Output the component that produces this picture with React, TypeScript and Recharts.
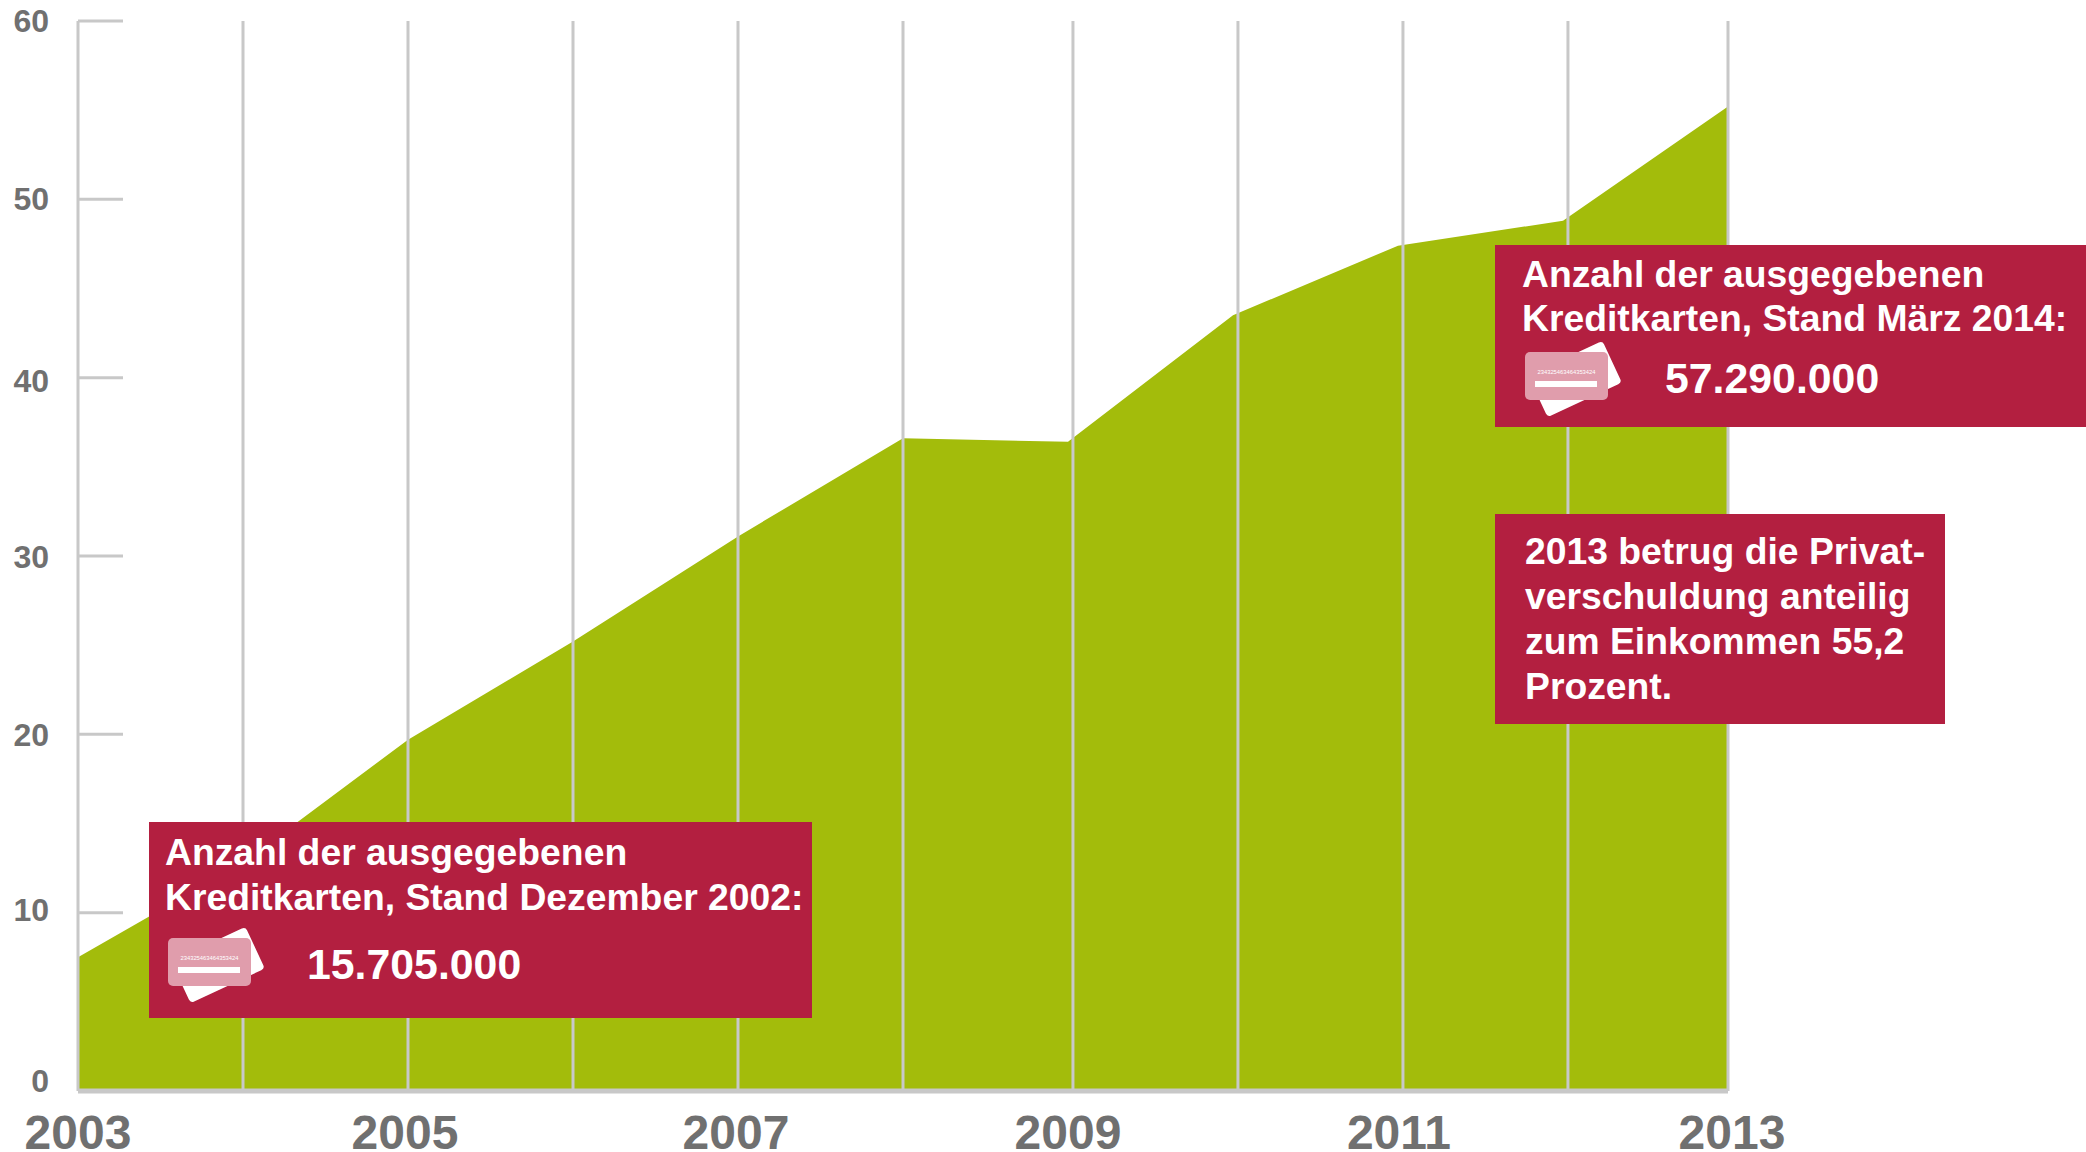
import { AreaChart, Area, XAxis, YAxis, ReferenceLine } from 'recharts';

const years = [2003, 2004, 2005, 2006, 2007, 2008, 2009, 2010, 2011, 2012, 2013];
const debtShare = [7.5, 12.8, 19.7, 25.2, 31.1, 36.6, 36.4, 43.5, 47.4, 48.8, 55.2];
// the vertical rules in the source sit slightly right of the data points after 2008
const gridYears = [2004, 2005, 2006, 2007, 2008, 2009.03, 2010.03, 2011.03, 2012.03, 2013];
const xTicks = [2003, 2005, 2007, 2009, 2011, 2013];
const yTicks = [0, 10, 20, 30, 40, 50, 60];

const data = years.map((year, i) => ({ year, value: debtShare[i] }));

const GREY = '#c8c8c8';
const LABEL = '#707070';
const FONT = '"Liberation Sans", Arial, sans-serif';

// hand nudges for labels that are off their ticks in the source
const yLabelShift: Record<number, number> = { 0: -10, 10: -3, 20: 1, 30: 1, 40: 3 };
const xLabelShift: Record<number, number> = { 2005: -3, 2007: -2, 2011: 1, 2013: 4 };

function YTick({ x, y, payload }: any) {
  return (
    <g>
      <line x1={x + 29} x2={x + 74} y1={y} y2={y} stroke={GREY} strokeWidth={3} />
      <text x={x} y={y + (yLabelShift[payload.value] ?? 0)} dy={11} textAnchor="end" fontFamily={FONT} fontWeight="bold" fontSize={32} fill={LABEL}>
        {payload.value}
      </text>
    </g>
  );
}

function XTick({ x, y, payload }: any) {
  return (
    <text x={x + (xLabelShift[payload.value] ?? 0)} y={y} dy={32} textAnchor="middle" fontFamily={FONT} fontWeight="bold" fontSize={48} fill={LABEL}>
      {payload.value}
    </text>
  );
}

function CardIcon() {
  return (
    <svg width={110} height={80} style={{ position: 'absolute', left: 0, top: 0 }}>
      <rect x={10} y={15} width={82} height={46} rx={4} fill="#fff" transform="rotate(-25 51 38)" />
      <rect x={1} y={11} width={83} height={48} rx={5} fill="#e09dac" />
      <text x={42.5} y={33} textAnchor="middle" fontFamily={FONT} fontWeight="normal" fontSize={5.8} fill="#fff">234325463464353424</text>
      <rect x={11} y={40} width={62} height={6} fill="#fff" />
    </svg>
  );
}

function Box({ left, top, width, height, children }: any) {
  return (
    <div style={{
      position: 'absolute', left, top, width, height, background: '#b31f40', color: '#fff',
      fontFamily: FONT, fontWeight: 'bold', fontSize: 37.3, lineHeight: '45px',
    }}>
      {children}
    </div>
  );
}

function Line({ left, top, size, children }: any) {
  return <div style={{ position: 'absolute', left, top, whiteSpace: 'nowrap', fontSize: size }}>{children}</div>;
}

export default function App() {
  return (
    <div style={{ position: 'absolute', left: 0, top: 0, width: 2086, height: 1152, background: '#fff', overflow: 'hidden' }}>
      <AreaChart width={2086} height={1152} data={data} margin={{ top: 21, right: 358, bottom: 0, left: 0 }}>
        <XAxis
          dataKey="year"
          type="number"
          domain={[2003, 2013]}
          ticks={xTicks}
          interval={0}
          height={61}
          tickLine={false}
          axisLine={{ stroke: GREY, strokeWidth: 5 }}
          tickMargin={20}
          tick={<XTick />}
        />
        <YAxis
          type="number"
          domain={[0, 60]}
          ticks={yTicks}
          interval={0}
          width={78}
          tickLine={false}
          tickSize={0}
          tickMargin={29}
          axisLine={{ stroke: GREY, strokeWidth: 3 }}
          tick={<YTick />}
        />
        <Area
          dataKey="value"
          type="linear"
          stroke="none"
          fill="#a3bc0b"
          fillOpacity={1}
          isAnimationActive={false}
        />
        {gridYears.map((year) => (
          <ReferenceLine key={year} x={year} stroke={GREY} strokeWidth={3} />
        ))}
      </AreaChart>

      <Box left={149} top={822} width={663} height={196}>
        <Line left={16} top={8}>Anzahl der ausgegebenen</Line>
        <Line left={16} top={53}>Kreditkarten, Stand Dezember 2002:</Line>
        <div style={{ position: 'absolute', left: 18, top: 105 }}><CardIcon /></div>
        <Line left={158} top={120} size={42.8}>15.705.000</Line>
      </Box>

      <Box left={1495} top={245} width={591} height={182}>
        <Line left={27} top={7}>Anzahl der ausgegebenen</Line>
        <Line left={27} top={51}>Kreditkarten, Stand März 2014:</Line>
        <div style={{ position: 'absolute', left: 29, top: 96 }}><CardIcon /></div>
        <Line left={170} top={111} size={42.8}>57.290.000</Line>
      </Box>

      <Box left={1495} top={514} width={450} height={210}>
        <Line left={30} top={15}>2013 betrug die Privat-</Line>
        <Line left={30} top={60}>verschuldung anteilig</Line>
        <Line left={30} top={105}>zum Einkommen 55,2</Line>
        <Line left={30} top={150}>Prozent.</Line>
      </Box>
    </div>
  );
}
